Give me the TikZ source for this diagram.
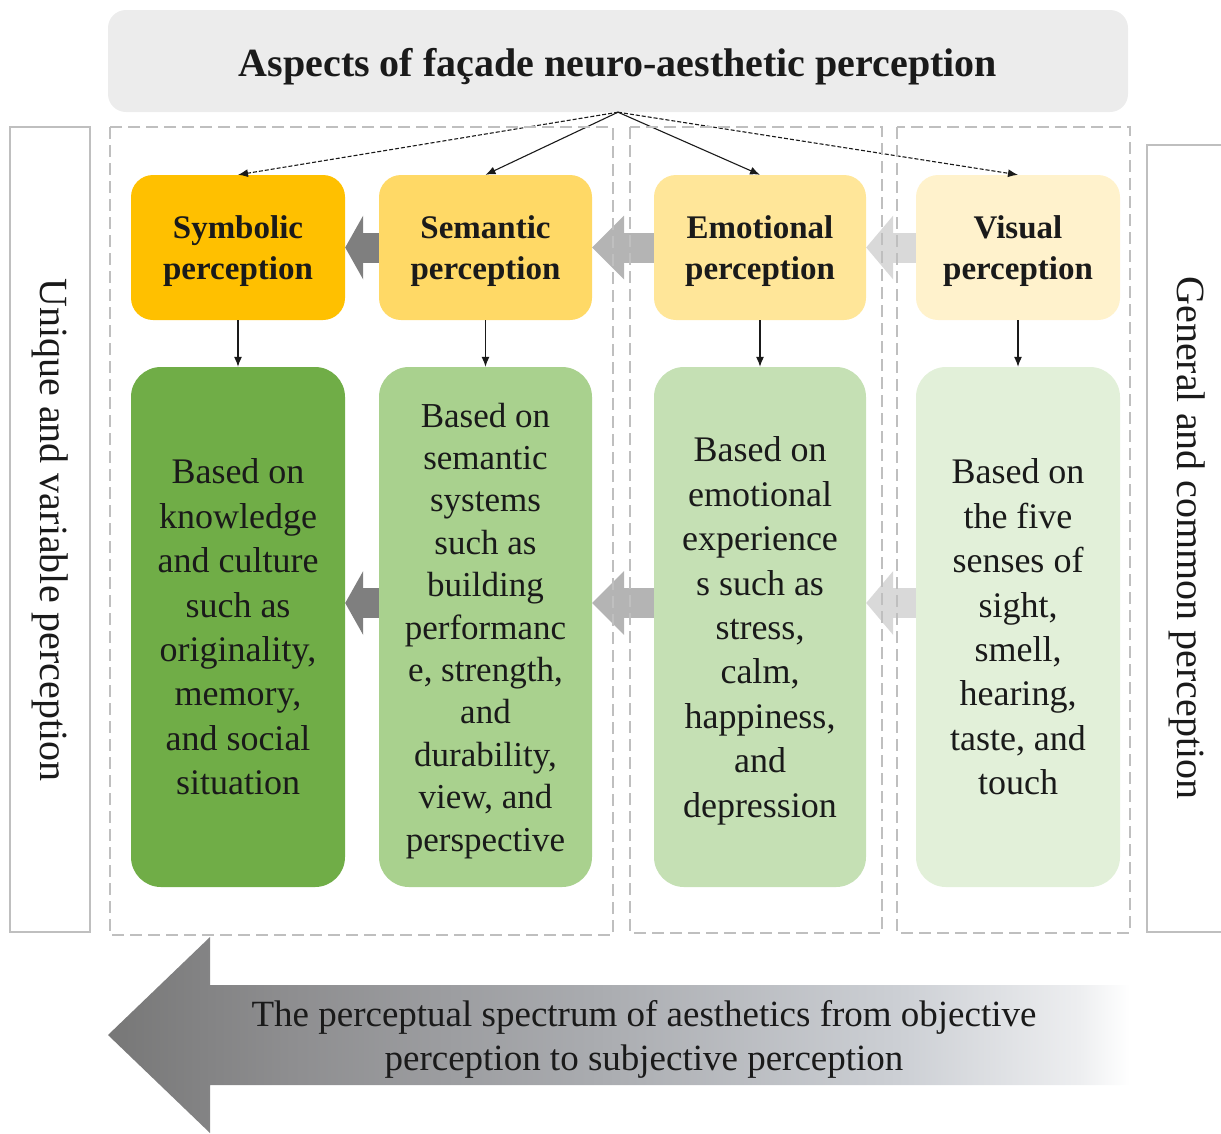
\documentclass[tikz,border=0pt]{standalone}
\usepackage{fontspec}
\setmainfont{Liberation Serif}
\usepackage{xcolor}
\usepackage{tikz}
\usetikzlibrary{arrows.meta}
\definecolor{aspectGrey}{HTML}{ECECEC}
\definecolor{frameGrey}{HTML}{BFBFBF}
\definecolor{inkBlack}{HTML}{1A1A1A}
\definecolor{symYellow}{HTML}{FFC000}
\definecolor{semYellow}{HTML}{FFD966}
\definecolor{emoYellow}{HTML}{FFE699}
\definecolor{visYellow}{HTML}{FFF2CC}
\definecolor{symGreen}{HTML}{70AD47}
\definecolor{semGreen}{HTML}{A9D18E}
\definecolor{emoGreen}{HTML}{C5E0B4}
\definecolor{visGreen}{HTML}{E2F0D9}
\definecolor{flowDark}{HTML}{7F7F7F}
\definecolor{flowMid}{HTML}{B4B4B4}
\definecolor{flowLight}{HTML}{D9D9D9}
\definecolor{specA}{HTML}{777777}
\definecolor{specB}{HTML}{8E8E90}
\definecolor{specC}{HTML}{AAACB0}
\definecolor{specD}{HTML}{CDD0D5}
\definecolor{specE}{HTML}{EDEEF0}
\pgfdeclarehorizontalshading{spectrumfade}{100bp}{color(0bp)=(specA); color(25bp)=(specA);
  color(34bp)=(specB); color(49bp)=(specC); color(64bp)=(specD); color(72.5bp)=(specE);
  color(75bp)=(white); color(100bp)=(white)}
\tikzset{
  aspect/.style={fill=aspectGrey, rounded corners=18pt, minimum width=1020pt, minimum height=102pt,
    text height=30pt, text depth=0pt, text=inkBlack, font=\fontsize{40}{48}\selectfont\bfseries},
  percbox/.style={rounded corners=22pt, minimum width=#1, minimum height=145pt, inner sep=0pt,
    text depth=0pt, align=center, text=inkBlack, font=\fontsize{33}{41}\selectfont\bfseries},
  basisbox/.style={rounded corners=30pt, minimum width=#1, minimum height=520pt, inner sep=0pt,
    align=center, text=inkBlack, font=\fontsize{36}{44.4}\selectfont},
  sidebox/.style={draw=frameGrey, line width=1.5pt},
  sidelabel/.style={inner sep=0pt, text=inkBlack, font=\fontsize{40}{48}\selectfont},
  groupbox/.style={draw=frameGrey, line width=1.5pt, dash pattern=on 12pt off 6pt},
  fan/.style={-{Latex[length=10pt, width=8pt]}, line width=1.1pt, inkBlack},
  flowarrow/.style={line width=30pt, -{Triangle[length=#1, width=64pt, line width=0pt]}},
  spectrumtext/.style={align=center, inner sep=0pt, text=inkBlack, font=\fontsize{37}{44}\selectfont},
}

\begin{document}
\begin{tikzpicture}[x=1pt, y=-1pt]
  \useasboundingbox (0,0) rectangle (1221,1133);
  % side frames
  \draw[sidebox] (10,127) rectangle (90,932);
  \draw[sidebox] (1235,145) -- (1147,145) -- (1147,932) -- (1235,932);
  \node[sidelabel, rotate=-90] (unique) at (50,530) {Unique and variable perception};
  \node[sidelabel, rotate=-90] (general) at (1187,538) {General and common perception};
  % heading
  \node[aspect] (title) at (618,61) {Aspects of façade neuro-aesthetic perception};
  % perception levels
  \node[percbox=214pt, fill=symYellow] (sym) at (238,247.5)  {Symbolic\\perception};
  \node[percbox=213pt, fill=semYellow] (sem) at (485.5,247.5) {Semantic\\perception};
  \node[percbox=212pt, fill=emoYellow] (emo) at (760,247.5)  {Emotional\\perception};
  \node[percbox=204pt, fill=visYellow] (vis) at (1018,247.5) {Visual\\perception};
  % what each level rests on
  \node[basisbox=214pt, fill=symGreen] (symb) at (238,627)
    {Based on\\knowledge\\and culture\\such as\\originality,\\memory,\\and social\\situation};
  \node[basisbox=213pt, fill=semGreen, text depth=0pt, font=\fontsize{35}{42.4}\selectfont] (semb) at (485.5,627)
    {Based on\\semantic\\systems\\such as\\building\\performanc\\e, strength,\\and\\durability,\\view, and\\perspective};
  \node[basisbox=212pt, fill=emoGreen, text depth=0pt] (emob) at (760,627)
    {Based on\\emotional\\experience\\s such as\\stress,\\calm,\\happiness,\\and\\depression};
  \node[basisbox=204pt, fill=visGreen] (visb) at (1018,627)
    {Based on\\the five\\senses of\\sight,\\smell,\\hearing,\\taste, and\\touch};
  % fan out from the heading
  \draw[fan, dash pattern=on 4pt off 2pt] (title.south) -- (sym.north);
  \draw[fan] (title.south) -- (sem.north);
  \draw[fan] (title.south) -- (emo.north);
  \draw[fan, dash pattern=on 4pt off 2pt] (title.south) -- (vis.north);
  \foreach \a/\b in {sym/symb, sem/semb, emo/emob, vis/visb}
    \draw[fan] (\a.south) -- (\b.north);
  % block arrows, darker towards the subjective end
  \draw[flowarrow=18pt, flowDark]  (sem.west) -- (sym.east);
  \draw[flowarrow=32pt, flowMid]   (emo.west) -- (sem.east);
  \draw[flowarrow=27pt, flowLight] (vis.west) -- (emo.east);
  \draw[flowarrow=18pt, flowDark]  ([yshift=24pt]semb.west) -- ([yshift=24pt]symb.east);
  \draw[flowarrow=32pt, flowMid]   ([yshift=24pt]emob.west) -- ([yshift=24pt]semb.east);
  \draw[flowarrow=27pt, flowLight] ([yshift=24pt]visb.west) -- ([yshift=24pt]emob.east);
  % dashed groups
  \draw[groupbox] (110,127) rectangle (613,935);
  \draw[groupbox] (630,127) rectangle (882,933);
  \draw[groupbox] (897,127) rectangle (1130,933);
  % spectrum arrow
  \shade[shading=spectrumfade] (108,1035) -- (210,937) -- (210,985) -- (1130,985)
    -- (1130,1085) -- (210,1085) -- (210,1133) -- cycle;
  \node[spectrumtext] (spectrum) at (644,1039)
    {The perceptual spectrum of aesthetics from objective\\perception to subjective perception};
\end{tikzpicture}
\end{document}
